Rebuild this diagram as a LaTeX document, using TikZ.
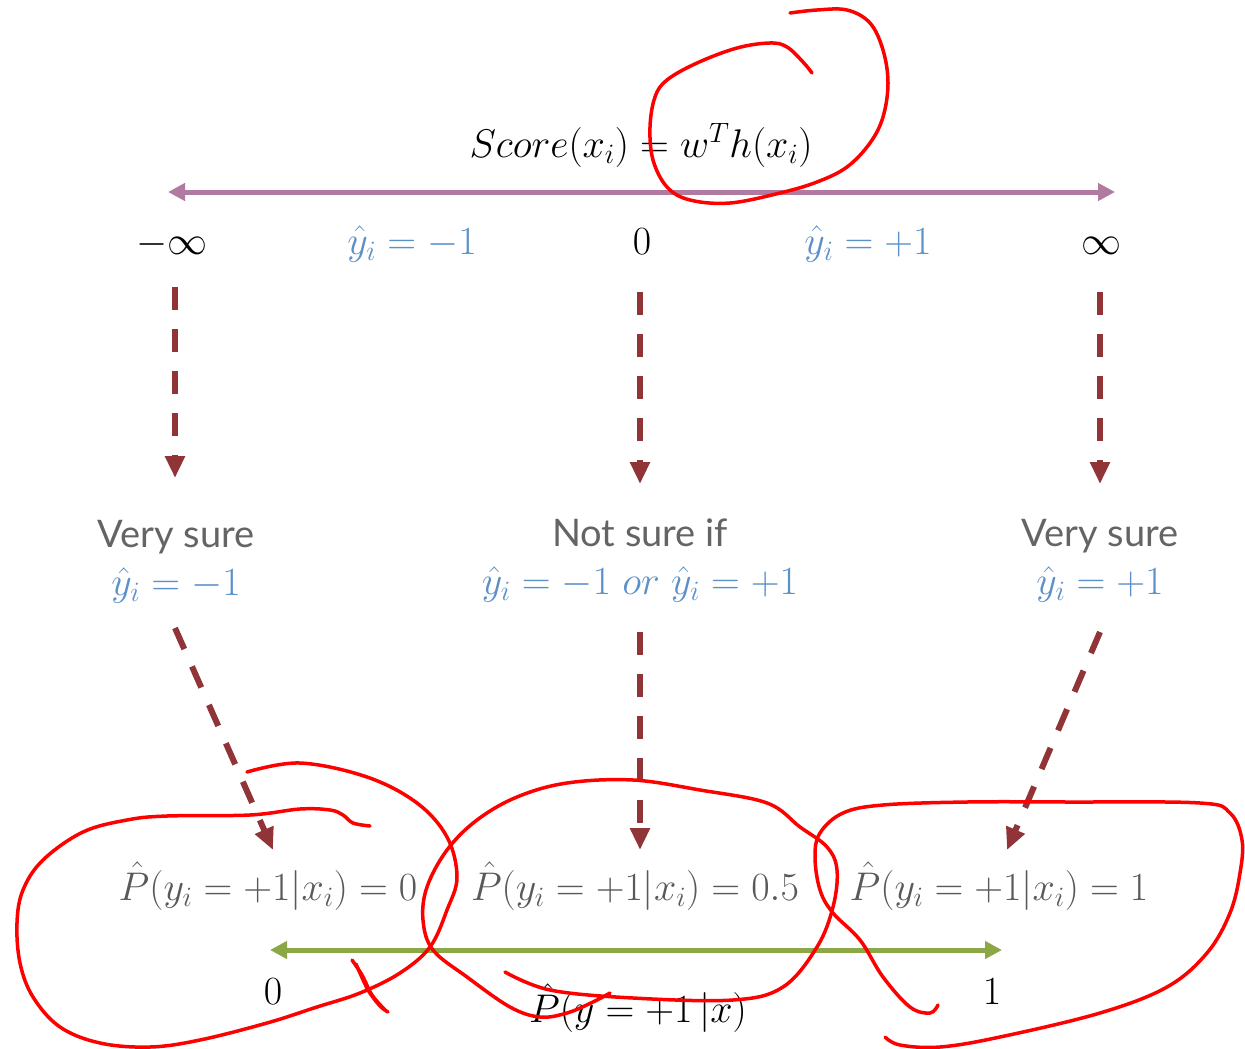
\RequirePackage{fix-cm}
\documentclass[tikz,border=0pt]{standalone}
\usepackage{fontspec}
\newfontfamily\lato{Lato}
\usetikzlibrary{arrows.meta}
\definecolor{purplec}{RGB}{176,122,161}
\definecolor{bluec}{RGB}{91,144,201}
\definecolor{grayc}{RGB}{89,89,89}
\definecolor{sgrayc}{RGB}{100,100,100}
\definecolor{darkredc}{RGB}{145,52,55}
\definecolor{greenc}{RGB}{139,167,70}
\definecolor{inkred}{RGB}{255,0,0}
\begin{document}
\begin{tikzpicture}[x=1pt,y=-1pt,
  lbl/.style={font=\fontsize{40}{48}\selectfont, inner sep=0pt, anchor=base},
  sans/.style={font=\lato\fontsize{38}{46}\selectfont, text=sgrayc, inner sep=0pt, anchor=base},
  axis/.style={line width=5pt, {Triangle[length=17pt,width=17pt]}-{Triangle[length=17pt,width=17pt]}},
  dasharrow/.style={draw=darkredc, line width=6pt, dash pattern=on 23pt off 19pt, -{Triangle[length=22pt,width=19pt]}},
  ink/.style={draw=inkred, line width=3.5pt, line cap=round, line join=round}]
\useasboundingbox (0,0) rectangle (1245,1049);

% top axis
\node[lbl] (score) at (641,157) {$Score(x_i) = w^T h(x_i)$};
\coordinate (pl) at (168,192);
\coordinate (pr) at (1115,192);
\draw[axis, draw=purplec, fill=purplec] (pl) -- (pr);

\node[lbl] (ninf) at (172,254) {$-\infty$};
\node[lbl, text=bluec] (yneg) at (412,254) {$\hat{y}_i = -1$};
\node[lbl] (zero) at (642,254) {$0$};
\node[lbl, text=bluec] (ypos) at (868,254) {$\hat{y}_i = +1$};
\node[lbl] (pinf) at (1101,254) {$\infty$};

% middle labels
\node[sans] (vs1) at (176,547) {Very sure};
\node[lbl, text=bluec] (vs1y) at (176,595) {$\hat{y}_i = -1$};
\node[sans] (ns) at (640,546) {Not sure if};
\node[lbl, text=bluec] (nsy) at (640,594) {$\hat{y}_i = -1\; or\; \hat{y}_i = +1$};
\node[sans] (vs2) at (1100,546) {Very sure};
\node[lbl, text=bluec] (vs2y) at (1100,594) {$\hat{y}_i = +1$};

% bottom labels
\node[lbl, text=grayc] (p0) at (268,900) {$\hat{P}(y_i = +1|x_i) = 0$};
\node[lbl, text=grayc] (p5) at (635,900) {$\hat{P}(y_i = +1|x_i) = 0.5$};
\node[lbl, text=grayc] (p1) at (999,900) {$\hat{P}(y_i = +1|x_i) = 1$};

\coordinate (gl) at (270,950);
\coordinate (gr) at (1002,950);
\draw[axis, draw=greenc, fill=greenc] (gl) -- (gr);
\node[lbl] (g0) at (273,1004) {$0$};
\node[lbl] (g1) at (992,1004) {$1$};
\node[lbl] (gp) at (638,1022) {$\hat{P}(y = +1\,|x)$};

% dashed arrows
\coordinate (d1s) at (175,287); \coordinate (d1e) at (175,478);
\coordinate (d2s) at (640,292); \coordinate (d2e) at (640,484);
\coordinate (d3s) at (1100,292); \coordinate (d3e) at (1100,484);
\coordinate (d4s) at (175,628); \coordinate (d4e) at (273,850);
\coordinate (d5s) at (640,632); \coordinate (d5e) at (640,850);
\coordinate (d6s) at (1100,632); \coordinate (d6e) at (1007,850);
\draw[dasharrow] (d1s) -- (d1e);
\draw[dasharrow] (d2s) -- (d2e);
\draw[dasharrow] (d3s) -- (d3e);
\draw[dasharrow] (d4s) -- (d4e);
\draw[dasharrow] (d5s) -- (d5e);
\draw[dasharrow] (d6s) -- (d6e);

% red hand annotations
\draw[ink] plot[smooth, tension=0.6] coordinates {(790,13) (817,10) (847,10) (870,23) (883,50) (888,83) (883,117) (870,143) (847,167) (817,182) (780,193) (730,203) (690,200) (667,187) (653,160) (650,127) (655,97) (667,80) (697,63) (737,48) (770,43) (787,47) (803,62) (812,73)};

\draw[ink] plot[smooth, tension=0.6] coordinates {(247,772) (300,763) (367,777) (417,803) (447,837) (457,877) (447,910) (430,947) (400,973) (360,993) (317,1007) (267,1023) (200,1040) (150,1047) (100,1043) (60,1027) (33,997) (20,963) (17,923) (23,890) (43,860) (83,832) (127,820) (167,816) (250,815) (300,809) (330,810) (343,815) (353,823) (370,826)};

\draw[ink] plot[smooth, tension=0.6] coordinates {(505,972) (550,990) (633,998) (733,1000) (783,987) (817,947) (833,907) (837,870) (827,847) (800,827) (767,803) (700,790) (633,780) (567,783) (517,797) (477,820) (447,850) (427,887) (423,920) (433,950) (467,977) (510,1007) (540,1017) (567,1013) (593,1002) (610,993)};

\draw[ink] plot[smooth, tension=0.6] coordinates {(938,1005) (930,1013) (910,1007) (883,977) (860,940) (833,913) (820,890) (815,857) (820,833) (843,813) (883,805) (967,802) (1067,802) (1200,803) (1230,813) (1242,840) (1240,873) (1230,913) (1207,953) (1167,987) (1100,1013) (1000,1037) (940,1047) (900,1045) (885,1037)};

\draw[ink] plot[smooth, tension=0.5] coordinates {(352,960) (362,975) (372,995) (385,1010)};
\draw[ink] plot[smooth, tension=0.5] coordinates {(356,964) (368,990) (380,1006) (388,1012)};
\end{tikzpicture}
\end{document}
